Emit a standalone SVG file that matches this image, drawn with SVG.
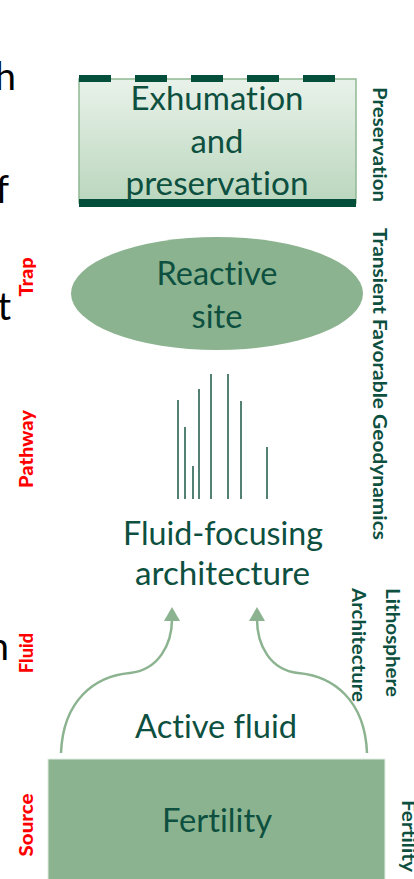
<svg xmlns="http://www.w3.org/2000/svg" width="414" height="879" viewBox="0 0 414 879">
  <defs>
    <linearGradient id="presGrad" x1="0" y1="0" x2="0" y2="1">
      <stop offset="0" stop-color="#e9f2ea"/>
      <stop offset="1" stop-color="#bad6bd"/>
    </linearGradient>
  </defs>
  <style>
    text { font-variant-ligatures: none; font-feature-settings: "liga" 0, "clig" 0, "dlig" 0; }
    .main { font-family: Lato, "Liberation Sans", sans-serif; font-size: 33px; fill: #0d5040; text-anchor: middle; }
    .side { font-family: Lato, "Liberation Sans", sans-serif; font-weight: bold; font-size: 18px; fill: #0d5040; text-anchor: middle; }
    .stage { font-family: Lato, "Liberation Sans", sans-serif; font-weight: 900; font-size: 19px; fill: #ff0000; text-anchor: middle; }
    .edge { font-family: Lato, "Liberation Sans", sans-serif; font-size: 38px; fill: #000000; text-anchor: end; }
    .flow { fill: none; stroke: #8bb38f; stroke-width: 2.5; }
    .head { fill: #8bb38f; }
    .conduit { stroke: #1a5746; stroke-width: 1.5; }
  </style>

  <!-- letters running off the left edge -->
  <g id="edge-letters">
    <text class="edge" x="16" y="90">h</text>
    <text class="edge" x="9" y="203">f</text>
    <text class="edge" x="11" y="320">t</text>
    <text class="edge" x="9" y="660">n</text>
  </g>

  <!-- stage labels (red, left) -->
  <g id="stage-labels">
    <text class="stage" transform="translate(33,277) rotate(-90)" textLength="39" lengthAdjust="spacingAndGlyphs">Trap</text>
    <text class="stage" transform="translate(33,449) rotate(-90)" textLength="78" lengthAdjust="spacingAndGlyphs">Pathway</text>
    <text class="stage" transform="translate(33,653) rotate(-90)" textLength="40" lengthAdjust="spacingAndGlyphs">Fluid</text>
    <text class="stage" transform="translate(33,825) rotate(-90)" textLength="63" lengthAdjust="spacingAndGlyphs">Source</text>
  </g>

  <!-- factor labels (green, right) -->
  <g id="factor-labels">
    <text class="side" transform="translate(373,144.5) rotate(90)" textLength="115" lengthAdjust="spacingAndGlyphs">Preservation</text>
    <text class="side" transform="translate(373,384) rotate(90)" textLength="312" lengthAdjust="spacingAndGlyphs">Transient Favorable Geodynamics</text>
    <text class="side" transform="translate(386,642.5) rotate(90)" textLength="109" lengthAdjust="spacingAndGlyphs">Lithosphere</text>
    <text class="side" transform="translate(352,645) rotate(90)" textLength="114" lengthAdjust="spacingAndGlyphs">Architecture</text>
    <text class="side" transform="translate(402,836) rotate(90)" textLength="72" lengthAdjust="spacingAndGlyphs">Fertility</text>
  </g>

  <!-- exhumation and preservation block -->
  <g id="preservation">
    <rect x="79" y="79" width="277" height="124" fill="url(#presGrad)" stroke="#8fb893" stroke-width="1.5"/>
    <g fill="#034f3c">
      <rect x="79" y="75" width="32" height="7"/>
      <rect x="135" y="75" width="32" height="7"/>
      <rect x="191" y="75" width="32" height="7"/>
      <rect x="247" y="75" width="32" height="7"/>
      <rect x="303" y="75" width="32" height="7"/>
      <rect x="79" y="199" width="277" height="8"/>
    </g>
    <text class="main" x="217" y="110" textLength="173" lengthAdjust="spacingAndGlyphs">Exhumat<tspan dx="0.6">ion</tspan></text>
    <text class="main" x="217" y="153" textLength="53" lengthAdjust="spacingAndGlyphs">and</text>
    <text class="main" x="217" y="195" textLength="183" lengthAdjust="spacingAndGlyphs">preservat<tspan dx="0.6">ion</tspan></text>
  </g>

  <!-- reactive site -->
  <g id="reactive-site">
    <ellipse cx="217" cy="293.5" rx="146" ry="56.5" fill="#8bb38f"/>
    <text class="main" x="217" y="285" textLength="121" lengthAdjust="spacingAndGlyphs">Reactive</text>
    <text class="main" x="217" y="328" textLength="51" lengthAdjust="spacingAndGlyphs">site</text>
  </g>

  <!-- fluid pathways -->
  <g id="pathways">
    <line class="conduit" x1="178" y1="400" x2="178" y2="499"/>
    <line class="conduit" x1="185" y1="427" x2="185" y2="499"/>
    <line class="conduit" x1="193" y1="466" x2="193" y2="499"/>
    <line class="conduit" x1="199" y1="389" x2="199" y2="499"/>
    <line class="conduit" x1="211" y1="374" x2="211" y2="499"/>
    <line class="conduit" x1="228" y1="374" x2="228" y2="499"/>
    <line class="conduit" x1="241" y1="401" x2="241" y2="499"/>
    <line class="conduit" x1="267" y1="447" x2="267" y2="499"/>
  </g>

  <!-- fluid-focusing architecture -->
  <g id="architecture">
    <text class="main" x="223" y="545" textLength="200" lengthAdjust="spacingAndGlyphs">Fluid-focusing</text>
    <text class="main" x="222.5" y="585" textLength="175" lengthAdjust="spacingAndGlyphs">architecture</text>
  </g>

  <!-- active fluid -->
  <g id="active-fluid">
    <text class="main" x="216" y="738" textLength="162" lengthAdjust="spacingAndGlyphs">Active fluid</text>
  </g>

  <!-- fertile source -->
  <g id="fertility">
    <rect x="48" y="759" width="337" height="130" fill="#8bb38f" stroke="#e4eee4" stroke-width="1"/>
    <text class="main" x="217" y="832" textLength="110" lengthAdjust="spacingAndGlyphs">Fertility</text>
  </g>

  <!-- upward fluid flow connectors -->
  <g id="connectors">
    <path class="flow" d="M61,753 C63,700 95,676 130,673 C158,670 172,645 172,619"/>
    <polygon class="head" points="172,607 164,621 180,621"/>
    <path class="flow" d="M367,753 C365,700 333,676 298,673 C270,670 257,645 257,619"/>
    <polygon class="head" points="257,607 249,621 265,621"/>
  </g>
</svg>
